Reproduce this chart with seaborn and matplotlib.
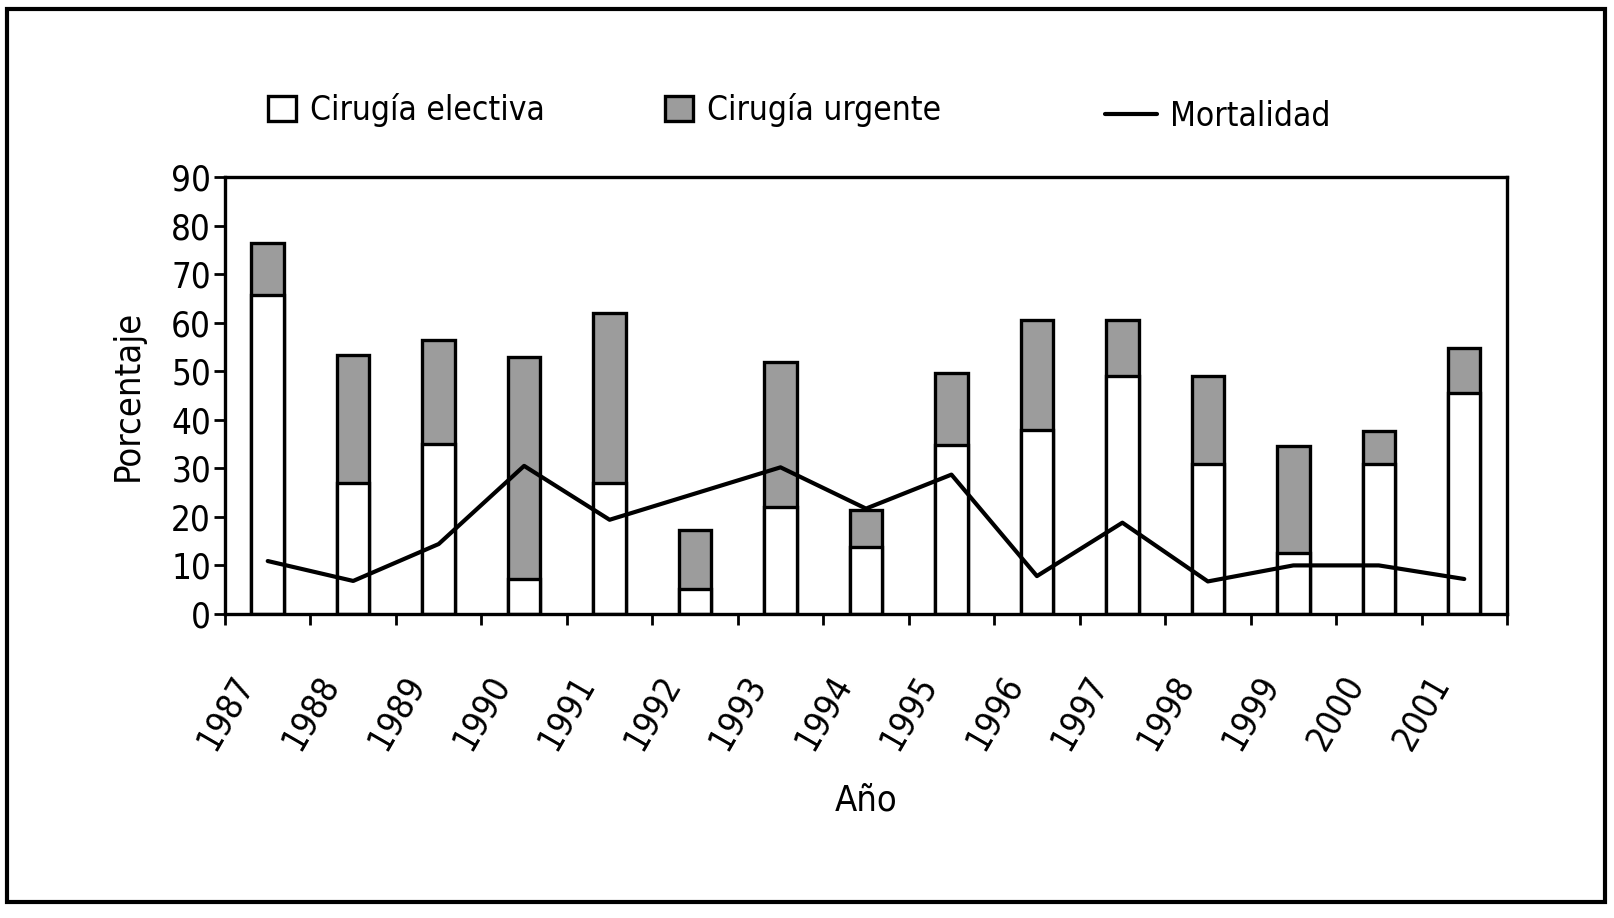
import numpy as np
import pandas as pd
import matplotlib
matplotlib.use('Agg')
import matplotlib.pyplot as plt
import seaborn as sns
from matplotlib import font_manager
from matplotlib.patches import Rectangle, Patch
from matplotlib.lines import Line2D

# data
anos = ['1987', '1988', '1989', '1990', '1991', '1992', '1993', '1994',
        '1995', '1996', '1997', '1998', '1999', '2000', '2001']
electiva = [65.7, 26.9, 35.0, 7.2, 26.9, 5.2, 22.1, 13.7, 34.9, 37.9, 49.1, 30.8, 12.5, 30.8, 45.5]
urgente = [10.7, 26.5, 21.5, 45.8, 35.1, 12.0, 29.8, 7.7, 14.7, 22.7, 11.5, 18.3, 22.0, 6.8, 9.3]
mortalidad = [10.9, 6.8, 14.4, 30.5, 19.4, 24.8, 30.2, 21.7, 28.7, 7.8, 18.8, 6.7, 10.0, 10.0, 7.2]
y_ticks = [0, 10, 20, 30, 40, 50, 60, 70, 80, 90]

df = pd.DataFrame({'anio': anos, 'electiva': electiva, 'urgente': urgente,
                   'mortalidad': mortalidad})
df['total'] = df['electiva'] + df['urgente']

sns.set_style('ticks')
names = {f.name for f in font_manager.fontManager.ttflist}
fam = 'Liberation Sans Narrow' if 'Liberation Sans Narrow' in names else 'DejaVu Sans'
plt.rcParams['font.family'] = [fam, 'DejaVu Sans']
if fam == 'DejaVu Sans':
    plt.rcParams['font.stretch'] = 'condensed'
for k in ['text.color', 'axes.labelcolor', 'xtick.color', 'ytick.color', 'axes.edgecolor']:
    plt.rcParams[k] = 'black'

gris = '#9c9c9c'

fig = plt.figure(figsize=(16.14, 9.18), dpi=100)
ax = fig.add_axes([0.1394, 0.3312, 0.7943, 0.476])

# gray = total (electiva + urgente), white drawn on top = electiva
sns.barplot(data=df, x='anio', y='total', color=gris, saturation=1, width=0.38,
            edgecolor='black', linewidth=2.4, ax=ax, order=anos)
sns.barplot(data=df, x='anio', y='electiva', color='white', saturation=1, width=0.38,
            edgecolor='black', linewidth=2.4, ax=ax, order=anos)
sns.lineplot(x=np.arange(len(anos)), y=df['mortalidad'], color='black', linewidth=3,
             ax=ax)

ax.set_xlim(-0.5, len(anos) - 0.5)
ax.set_ylim(0, 90)
ax.set_yticks(y_ticks)
ax.set_yticklabels([str(v) for v in y_ticks], fontsize=25)
ax.set_xticks(np.arange(len(anos) + 1) - 0.5)
ax.set_xticklabels(anos + [''], rotation=60, ha='center', fontsize=25)
ax.tick_params(axis='x', length=8, width=2, pad=32)
ax.tick_params(axis='y', length=8, width=2, pad=2)
for s in ax.spines.values():
    s.set_visible(True)
    s.set_linewidth(2.4)
    s.set_color('black')

ax.set_xlabel('Año', fontsize=26, labelpad=20)
ax.set_ylabel('Porcentaje', fontsize=26, labelpad=19)

# legend items (one per entry, spaced like the original)
h1 = Patch(facecolor='white', edgecolor='black', linewidth=2.4)
h2 = Patch(facecolor=gris, edgecolor='black', linewidth=2.4)
h3 = Line2D([], [], color='black', linewidth=3)
for h, lab, x, y, hl in [(h1, 'Cirugía electiva', 0.166, 0.880, 0.85),
                         (h2, 'Cirugía urgente', 0.412, 0.880, 0.85),
                         (h3, 'Mortalidad', 0.6846, 0.8736, 1.55)]:
    fig.legend(handles=[h], labels=[lab], loc='center left', bbox_to_anchor=(x, y),
               frameon=False, fontsize=24, borderpad=0, borderaxespad=0,
               handlelength=hl, handleheight=0.75, handletextpad=0.4)

# outer frame
fig.patches.append(Rectangle((0.0043, 0.0174), 0.990, 0.9728, transform=fig.transFigure,
                             fill=False, edgecolor='black', linewidth=3))

fig.savefig('out.png', dpi=100)
